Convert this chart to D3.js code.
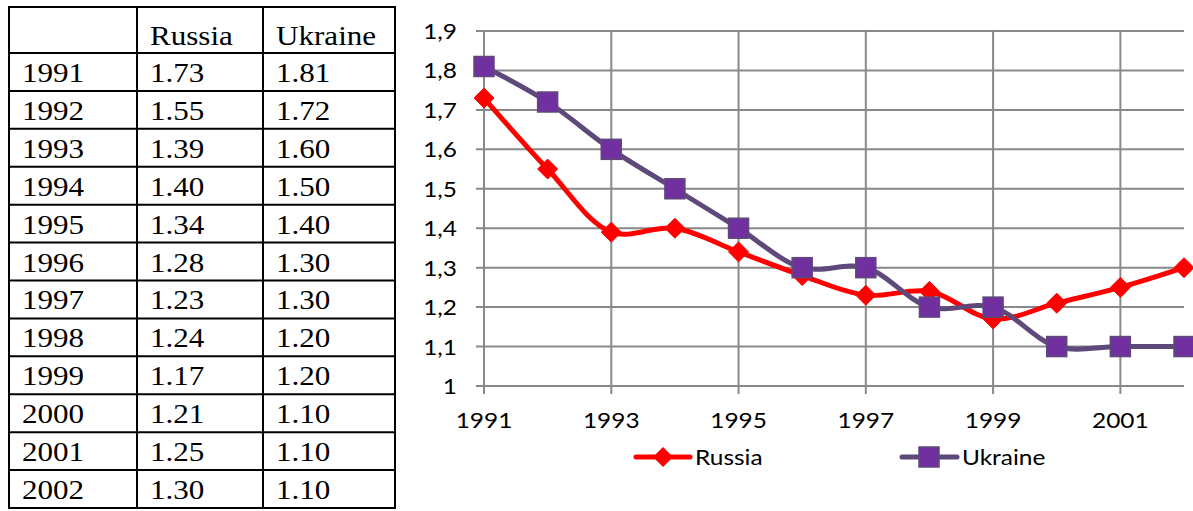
<!DOCTYPE html>
<html><head><meta charset="utf-8">
<script src="https://cdn.jsdelivr.net/npm/d3@7"></script>
<style>html,body{margin:0;padding:0;background:#fff;}svg{display:block;}</style>
</head><body>
<svg id="c" width="1193" height="511"></svg>
<script>
const years = [1991,1992,1993,1994,1995,1996,1997,1998,1999,2000,2001,2002];
const russia = [1.73,1.55,1.39,1.40,1.34,1.28,1.23,1.24,1.17,1.21,1.25,1.30];
const ukraine = [1.81,1.72,1.60,1.50,1.40,1.30,1.30,1.20,1.20,1.10,1.10,1.10];
const seriesNames = ["Russia","Ukraine"];
const yTicks = [1,1.1,1.2,1.3,1.4,1.5,1.6,1.7,1.8,1.9];
const xTickYears = [1991,1993,1995,1997,1999,2001];

const svg = d3.select("#c");
const SX = 1.11;
const tr = (x,y)=>`translate(${x},${y}) scale(${SX},1)`;

// ---- Table ----
const colX = [9,137,263,395];
const rowY = [7,53];
for (let i=1;i<=12;i++) rowY.push(53 + i*(508-53)/12);
const tbl = svg.append("g");
tbl.append("g").selectAll("line").data(colX).join("line")
  .attr("x1",d=>d).attr("x2",d=>d).attr("y1",rowY[0]).attr("y2",rowY[rowY.length-1])
  .attr("stroke","#000").attr("stroke-width",2);
tbl.append("g").selectAll("line").data(rowY).join("line")
  .attr("x1",colX[0]-1).attr("x2",colX[3]+1).attr("y1",d=>d).attr("y2",d=>d)
  .attr("stroke","#000").attr("stroke-width",2);
const tf = "'Liberation Serif','Times New Roman',serif";
tbl.append("g").selectAll("text").data(seriesNames).join("text")
  .attr("transform",(d,i)=>tr(colX[i+1]+13,45))
  .attr("font-family",tf).attr("font-size",28).text(d=>d);
const rows = years.map((y,i)=>[String(y), russia[i].toFixed(2), ukraine[i].toFixed(2)]);
rows.forEach((r,i)=>{
  const cy = (rowY[i+1]+rowY[i+2])/2;
  tbl.append("g").selectAll("text").data(r).join("text")
    .attr("transform",(d,j)=>tr(colX[j]+13,cy+10))
    .attr("font-family",tf).attr("font-size",28).text(d=>d);
});

// ---- Chart ----
const x = d3.scaleLinear().domain([1991,2002]).range([484,1184]);
const y = d3.scaleLinear().domain([1,1.9]).range([386,31]);
const cf = "Lato,'Open Sans',sans-serif";
const grid = "#898989";
const ch = svg.append("g");
ch.append("g").selectAll("line").data(yTicks).join("line")
  .attr("x1",476).attr("x2",1184).attr("y1",d=>y(d)).attr("y2",d=>y(d))
  .attr("stroke",grid).attr("stroke-width",2);
ch.append("g").selectAll("line").data(xTickYears).join("line")
  .attr("x1",d=>x(d)).attr("x2",d=>x(d)).attr("y1",y(1.9)).attr("y2",y(1)+8)
  .attr("stroke",grid).attr("stroke-width",2);
ch.append("g").selectAll("text").data(yTicks).join("text")
  .attr("transform",d=>tr(457,y(d)+8)).attr("text-anchor","end")
  .attr("font-family",cf).attr("font-size",22).attr("fill","#000")
  .text(d=>String(d).replace(".",","));
ch.append("g").selectAll("text").data(xTickYears).join("text")
  .attr("transform",d=>tr(x(d),428)).attr("text-anchor","middle")
  .attr("font-family",cf).attr("font-size",22).attr("fill","#000")
  .text(d=>d);

const line = d3.line().x(d=>x(d[0])).y(d=>y(d[1])).curve(d3.curveCatmullRom.alpha(0.5));
const ukColor = "#5F497A", ukFill = "#7030A0", ruColor = "#FF0000";
const ukData = years.map((yr,i)=>[yr,ukraine[i]]);
const ruData = years.map((yr,i)=>[yr,russia[i]]);

ch.append("path").attr("d",line(ruData)).attr("fill","none").attr("stroke",ruColor).attr("stroke-width",5).attr("stroke-linejoin","round");
ch.append("path").attr("d",line(ukData)).attr("fill","none").attr("stroke",ukColor).attr("stroke-width",5).attr("stroke-linejoin","round");

const diamond = (cx,cy,r)=>`M${cx},${cy-r}L${cx+r},${cy}L${cx},${cy+r}L${cx-r},${cy}Z`;
ch.append("g").selectAll("path").data(ruData).join("path")
  .attr("d",d=>diamond(x(d[0]),y(d[1]),10)).attr("fill",ruColor).attr("stroke",ruColor).attr("stroke-width",1);
ch.append("g").selectAll("rect").data(ukData).join("rect")
  .attr("x",d=>x(d[0])-10).attr("y",d=>y(d[1])-10).attr("width",20).attr("height",20)
  .attr("fill",ukFill).attr("stroke",ukColor).attr("stroke-width",1.5);

// legend
const lg = svg.append("g");
lg.append("line").attr("x1",636).attr("x2",690).attr("y1",457).attr("y2",457).attr("stroke",ruColor).attr("stroke-width",5).attr("stroke-linecap","round");
lg.append("path").attr("d",diamond(663,457,10)).attr("fill",ruColor);
lg.append("text").attr("transform",tr(695,465)).attr("font-family",cf).attr("font-size",22).text(seriesNames[0]);
lg.append("line").attr("x1",902).attr("x2",957).attr("y1",457).attr("y2",457).attr("stroke",ukColor).attr("stroke-width",5).attr("stroke-linecap","round");
lg.append("rect").attr("x",919).attr("y",447).attr("width",20).attr("height",20).attr("fill",ukFill).attr("stroke",ukColor).attr("stroke-width",1.5);
lg.append("text").attr("transform",tr(962,465)).attr("font-family",cf).attr("font-size",22).text(seriesNames[1]);
</script>
</body></html>
